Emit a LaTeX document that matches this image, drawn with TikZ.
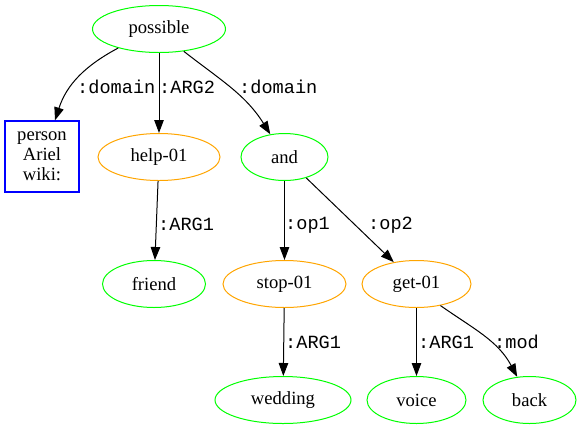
\documentclass[tikz,border=0pt]{standalone}
\usepackage{fontspec}
\setmainfont{Liberation Serif}
\setmonofont{Liberation Mono}
\usetikzlibrary{shapes.geometric,arrows.meta}
\definecolor{amrgreen}{HTML}{00FF00}
\definecolor{amrorange}{HTML}{FFA500}
\definecolor{amrblue}{HTML}{0000FF}

\begin{document}
\begin{tikzpicture}[x=1pt,y=-1pt,
  concept/.style={draw=amrgreen,ellipse,inner sep=0pt,line width=1pt,
    minimum height=47pt,font=\fontsize{18.6}{21}\selectfont},
  frame/.style={concept,draw=amrorange},
  entity/.style={draw=amrblue,rectangle,inner sep=0pt,line width=1.3pt,
    minimum width=74pt,minimum height=71pt,align=center,
    font=\fontsize{18.6}{20}\selectfont},
  edge/.style={line width=1pt,-{Triangle[length=13pt,width=9.5pt]}},
  lbl/.style={anchor=west,inner sep=0pt,font=\ttfamily\fontsize{18.6}{21}\selectfont}]
\useasboundingbox (0,0) rectangle (581,429);
% top
\node[concept,minimum width=133pt] (possible) at (159,29) {possible};
% second row
\node[entity] (person) at (42,156.5) {person\\Ariel\\wiki:};
\node[frame,minimum width=122pt] (help) at (159,157) {help-01};
\node[concept,minimum width=87pt] (and) at (284.5,157) {and};
% third row
\node[concept,minimum width=103pt] (friend) at (154,284) {friend};
\node[frame,minimum width=123pt] (stop) at (284.5,284) {stop-01};
\node[frame,minimum width=109pt] (get) at (416.5,284) {get-01};
% bottom
\node[concept,minimum width=136pt] (wedding) at (283,400) {wedding};
\node[concept,minimum width=99pt] (voice) at (416.5,400) {voice};
\node[concept,minimum width=93pt] (back) at (529.5,400) {back};
% arrows
\draw[edge] (possible.205) to[out=208,in=72] (person.north -| 55,0);
\draw[edge] (possible) -- (help);
\draw[edge] (possible.318) to[out=-38,in=122] (and.122);
\draw[edge] (help) -- (friend);
\draw[edge] (and) -- (stop);
\draw[edge] (and) -- (get);
\draw[edge] (stop) -- (wedding);
\draw[edge] (get) -- (voice);
\draw[edge] (get.318) to[out=-35,in=118] (back.118);
% labels
\node[lbl] (l1) at (77,87) {:domain};
\node[lbl] (l2) at (159,87) {:ARG2};
\node[lbl] (l3) at (239,87) {:domain};
\node[lbl] (l4) at (158,224) {:ARG1};
\node[lbl] (l5) at (285,225) {:op1};
\node[lbl] (l6) at (368,225) {:op2};
\node[lbl] (l7) at (285,342) {:ARG1};
\node[lbl] (l8) at (418,342) {:ARG1};
\node[lbl] (l9) at (494,342) {:mod};
\end{tikzpicture}
\end{document}
